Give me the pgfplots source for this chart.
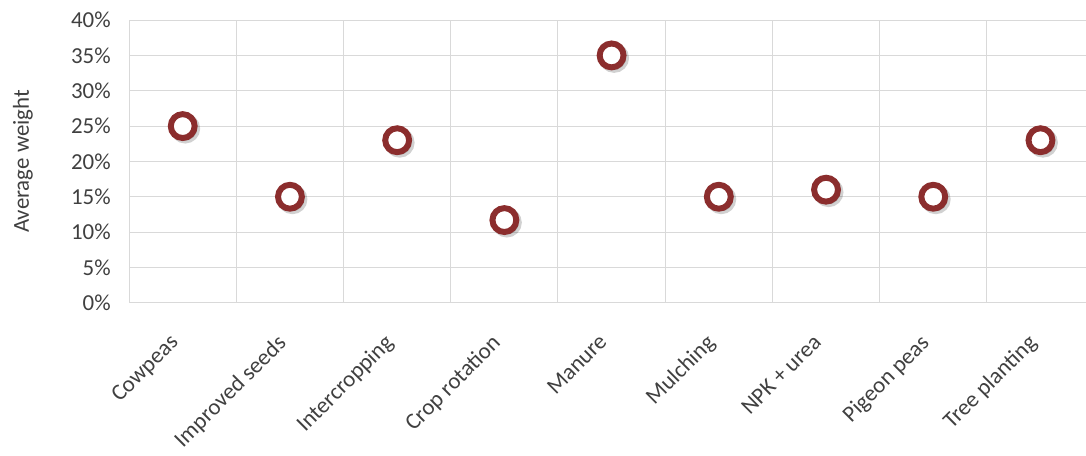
\documentclass[border=0pt]{standalone}
\usepackage{pgfplots}
\pgfplotsset{compat=1.18}
\usepackage{fontspec}
\setmainfont{Carlito}
\definecolor{mk}{HTML}{8B2D2D}
\definecolor{gridc}{HTML}{D9D9D9}
\definecolor{txt}{HTML}{404040}
\begin{document}
\begin{tikzpicture}
\begin{axis}[
  scale only axis, width=961pt, height=284pt,
  xmin=-0.5, xmax=8.42, ymin=0, ymax=40,
  xtick={0,...,8},
  xticklabels={Cowpeas,Improved seeds,Intercropping,Crop rotation,Manure,Mulching,NPK + urea,Pigeon peas,Tree planting},
  minor xtick={0.5,1.5,...,7.5},
  xminorgrids=true, ymajorgrids=true, xmajorgrids=false,
  grid style={gridc, line width=1pt},
  minor grid style={gridc, line width=1pt},
  ytick={0,5,...,40},
  /pgf/number format/assume math mode=true,
  yticklabel={\pgfmathprintnumber{\tick}\%},
  axis x line*=bottom, axis y line*=left,
  axis line style={gridc, line width=1pt, -},
  major tick length=0pt, minor tick length=0pt,
  tick label style={font=\fontsize{23}{27}\selectfont, text=txt},
  y tick label style={xshift=-15pt},
  x tick label style={rotate=45, anchor=north east, yshift=-8pt, xshift=-28pt},
  ylabel={Average weight},
  ylabel style={font=\fontsize{23}{27}\selectfont, text=txt, yshift=22pt, inner ysep=13pt},
  title={\mbox{}},
  title style={at={(0.5,1)}, anchor=south, inner sep=0pt, minimum height=14pt, yshift=0pt},
  clip=false,
]
\addplot[only marks, mark=*, mark size=12pt,
  mark options={draw=black, fill=none, line width=6pt, opacity=0.18, xshift=2.5pt, yshift=-2.5pt}]
  coordinates {(0,25) (1,15) (2,23) (3,11.7) (4,35) (5,15) (6,16) (7,15) (8,23)};
\addplot[only marks, mark=*, mark size=12pt,
  mark options={draw=mk, fill=white, line width=6pt}]
  coordinates {(0,25) (1,15) (2,23) (3,11.7) (4,35) (5,15) (6,16) (7,15) (8,23)};
\end{axis}
\end{tikzpicture}
\end{document}
